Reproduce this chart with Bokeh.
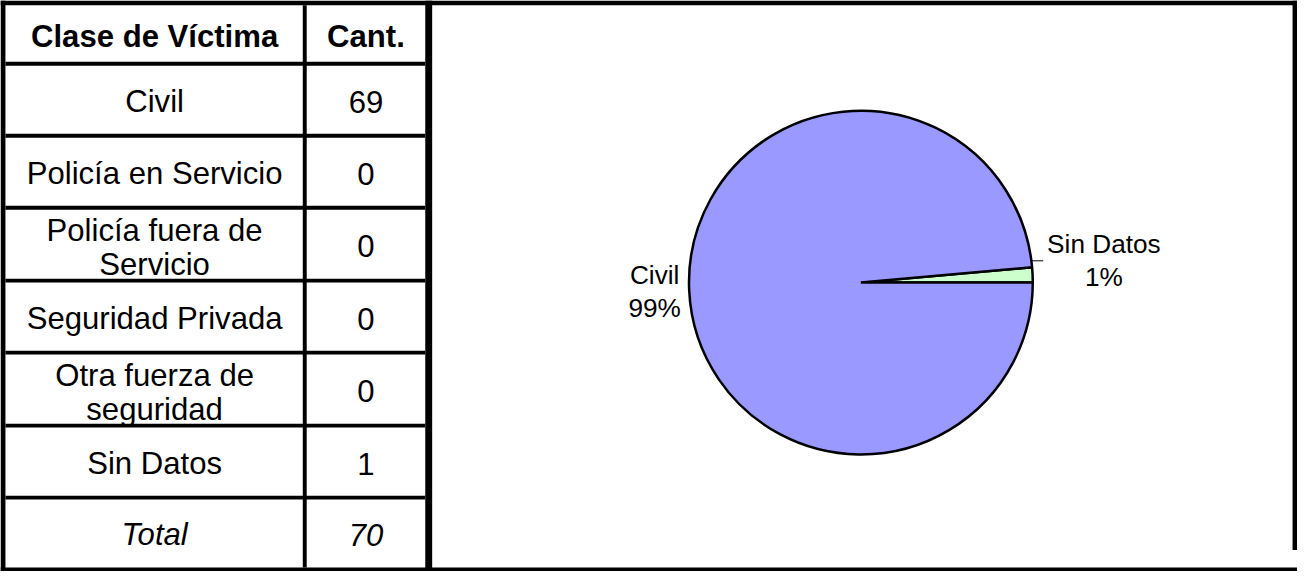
import math
from bokeh.plotting import figure
from bokeh.models import Range1d, ColumnDataSource
from bokeh.embed import file_html
from bokeh.resources import INLINE
from bokeh.core.properties import value

# ---------------- data ----------------
header = ["Clase de Víctima", "Cant."]
clases = ["Civil", "Policía en Servicio", "Policía fuera de\nServicio",
          "Seguridad Privada", "Otra fuerza de\nseguridad", "Sin Datos"]
cantidades = [69, 0, 0, 0, 0, 1]
total_label = "Total"

pie_labels = ["Sin Datos", "Civil"]
pie_values = [1, 69]
pie_colors = ["#CCFFCC", "#9999FF"]

# ---------------- layout (reference pixel space) ----------------
W, H = 1313, 587
PW, PH = 1297, 571
S = PW / W
FONT = "Liberation Sans"
TEXT_SHIFT = -11  # baseline correction


def sy(y):
    return H - y


p = figure(width=PW, height=PH, x_range=Range1d(0, W), y_range=Range1d(0, H),
           output_backend="svg", toolbar_location=None, min_border=0,
           x_axis_location=None, y_axis_location=None)
p.grid.visible = False
p.outline_line_color = None
p.background_fill_color = "white"
p.border_fill_color = "white"

# table geometry
row_edges = [5, 65, 139, 213, 288, 362, 437, 511, 583]
col_centers = [156, 370]


def black_rect(x0, x1, y0, y1):
    p.quad(left=x0, right=x1, bottom=sy(y1), top=sy(y0),
           fill_color="black", line_color=None)


# borders
black_rect(0, W, 0, 5)          # top
black_rect(0, 5, 0, H)          # left
black_rect(0, W, 583, H)        # bottom
black_rect(1308, W, 0, 565)     # right
black_rect(430, 437, 0, H)      # table / chart separator
black_rect(306, 310, 5, 583)    # table column separator
for e in row_edges[1:-1]:
    black_rect(5, 430, e - 2, e + 2)

# table text
rows_text = [(header[0], header[1], "bold")]
for c, n in zip(clases, cantidades):
    rows_text.append((c, str(n), "normal"))
rows_text.append((total_label, str(sum(cantidades)), "italic"))

tx, ty, tt, ts = [], [], [], []
for i, (a, b, style) in enumerate(rows_text):
    center = (row_edges[i] + row_edges[i + 1]) / 2
    for col, txt in enumerate([a, b]):
        lines = txt.split("\n")
        if len(lines) == 1:
            base = [center + 13]
        else:
            base = [center - 3, center + 32]
        for ln, bl in zip(lines, base):
            tx.append(col_centers[col])
            ty.append(sy(bl + TEXT_SHIFT))
            tt.append(ln)
            ts.append(style)

src = ColumnDataSource(dict(x=tx, y=ty, text=tt, style=ts))
p.text(x="x", y="y", text="text", source=src,
       text_font=value(FONT), text_font_size=value(f"{31.5 * S:.1f}px"),
       text_font_style="style", text_align="center",
       text_baseline="alphabetic", text_color="black")

# ---------------- pie ----------------
cx, cy_s, r = 871, 290, 174
cy = sy(cy_s)
tot = sum(pie_values)
start = 0.0
angles = []
for v in pie_values:
    end = start + 2 * math.pi * v / tot
    angles.append((start, end))
    start = end

for (a0, a1), col in zip(angles, pie_colors):
    p.wedge(x=cx, y=cy, radius=r, start_angle=a0, end_angle=a1,
            fill_color=col, line_color="black", line_width=2.5)

# label placement (distance, angle in degrees from pie centre)
label_polar = {"Sin Datos": (247, 5.2), "Civil": (209, 182.6)}
lx, ly, lt = [], [], []
LFS = 26.5
for lab, v in zip(pie_labels, pie_values):
    d, ang = label_polar[lab]
    x = cx + d * math.cos(math.radians(ang))
    yc = cy_s - d * math.sin(math.radians(ang))
    pct = f"{round(100 * v / tot)}%"
    for txt, bl in [(lab, yc - 6.5), (pct, yc + 27.5)]:
        lx.append(x)
        ly.append(sy(bl + TEXT_SHIFT))
        lt.append(txt)
    if lab == "Sin Datos":
        dy = cy_s - yc
        x0 = cx + math.sqrt(r * r - dy * dy)
        p.segment(x0=x0, y0=sy(yc), x1=x0 + 12, y1=sy(yc),
                  line_color="black", line_width=1)

p.text(x=lx, y=ly, text=lt, text_font=value(FONT),
       text_font_size=value(f"{LFS * S:.1f}px"), text_align="center",
       text_baseline="alphabetic", text_color="black")

open("out.html", "w").write(file_html(p, INLINE))
